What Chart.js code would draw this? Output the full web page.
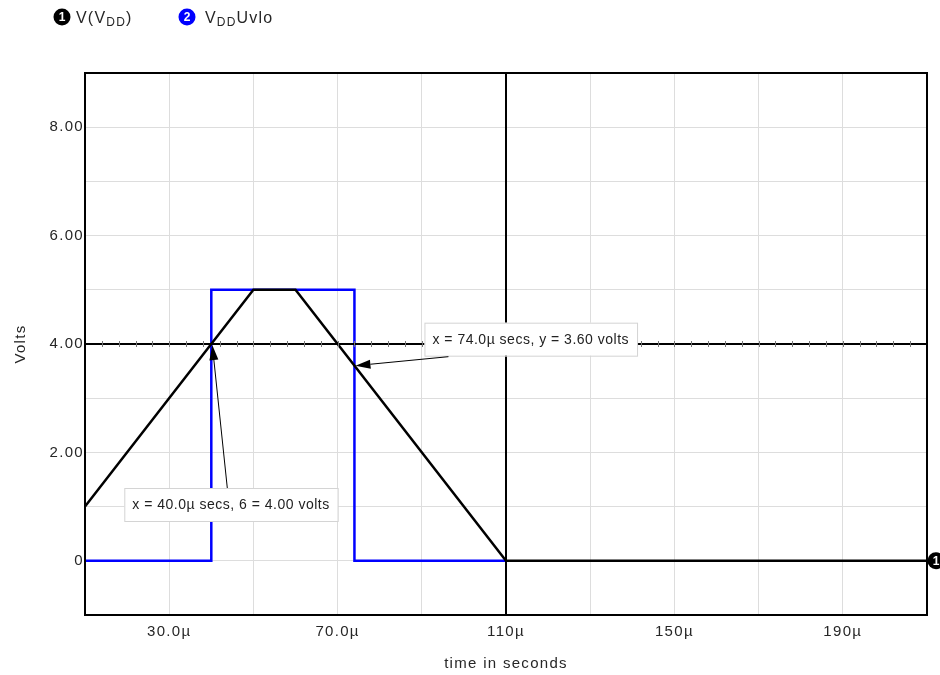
<!DOCTYPE html>
<html>
<head>
<meta charset="utf-8">
<title>V(VDD) and VDDUvlo</title>
<script src="https://cdn.jsdelivr.net/npm/chart.js@4.4.1/dist/chart.umd.min.js"></script>
<style>
  html, body { margin: 0; padding: 0; background: #ffffff; }
  #wrap { width: 940px; height: 675px; position: relative; }
</style>
</head>
<body>
<div id="wrap"><canvas id="chart" width="940" height="675"></canvas></div>
<script>
// Trace 1: supply voltage V(VDD), time in microseconds
const vddTime = [10, 50, 60, 110, 210];
const vddVolts = [1.0, 5.0, 5.0, 0, 0];

// Trace 2: under-voltage lockout output VDDUvlo
const uvloTime = [10, 40, 40, 74, 74, 110];
const uvloVolts = [0, 0, 5.0, 5.0, 0, 0];

// Axis ticks
const xTickValues = [30, 70, 110, 150, 190];
const xTickLabels = ['30.0µ', '70.0µ', '110µ', '150µ', '190µ'];
const yTickValues = [0, 2, 4, 6, 8];
const yTickLabels = ['0', '2.00', '4.00', '6.00', '8.00'];

// Cursors and measured points
const cursorTime = [110];
const cursorVolts = [4.0];
const probeTime = [40.0, 74.0];
const probeVolts = [4.00, 3.60];
const probeYName = ['6', 'y'];

const FONT = '"Liberation Sans", Arial, Helvetica, sans-serif';
const TEXT = '#262626';

function toXY(xs, ys) { return xs.map((x, i) => ({ x, y: ys[i] })); }

function line(ctx, x1, y1, x2, y2) {
  ctx.beginPath(); ctx.moveTo(x1, y1); ctx.lineTo(x2, y2); ctx.stroke();
}

function arrow(ctx, fx, fy, tx, ty) {
  const ang = Math.atan2(ty - fy, tx - fx);
  const len = 15, half = 4.5;
  const bx = tx - Math.cos(ang) * len, by = ty - Math.sin(ang) * len;
  ctx.strokeStyle = '#000'; ctx.lineWidth = 1;
  line(ctx, fx, fy, bx, by);
  ctx.fillStyle = '#000';
  ctx.beginPath();
  ctx.moveTo(tx, ty);
  ctx.lineTo(bx + Math.sin(ang) * half, by - Math.cos(ang) * half);
  ctx.lineTo(bx - Math.sin(ang) * half, by + Math.cos(ang) * half);
  ctx.closePath(); ctx.fill();
}

function labelBox(ctx, text, left, top) {
  ctx.font = '14px ' + FONT;
  ctx.letterSpacing = '0.5px';
  const w = ctx.measureText(text).width + 16, h = 33;
  ctx.fillStyle = '#ffffff';
  ctx.fillRect(left, top, w, h);
  ctx.strokeStyle = '#d4d4d4'; ctx.lineWidth = 1;
  ctx.strokeRect(left + 0.5, top + 0.5, w, h);
  ctx.fillStyle = '#222222';
  ctx.textAlign = 'left'; ctx.textBaseline = 'middle';
  ctx.fillText(text, left + 8, top + h / 2 + 1);
  return { w, h };
}

function badge(ctx, cx, cy, color, num) {
  ctx.fillStyle = color;
  ctx.beginPath(); ctx.arc(cx, cy, 8.5, 0, Math.PI * 2); ctx.fill();
  ctx.fillStyle = '#ffffff';
  ctx.font = 'bold 12px ' + FONT;
  ctx.letterSpacing = '0px';
  ctx.textAlign = 'center'; ctx.textBaseline = 'middle';
  ctx.fillText(num, cx, cy + 1);
}

// Text with subscript pieces: parts = [[text, isSub], ...]
function richText(ctx, parts, x, y) {
  ctx.textAlign = 'left'; ctx.textBaseline = 'alphabetic';
  ctx.fillStyle = TEXT;
  ctx.letterSpacing = '1.2px';
  for (const [t, sub] of parts) {
    ctx.font = (sub ? '12px ' : '16px ') + FONT;
    ctx.fillText(t, x, sub ? y + 3 : y);
    x += ctx.measureText(t).width;
  }
}

const letterSpacing = {
  id: 'letterSpacing',
  beforeDraw(chart) { chart.ctx.letterSpacing = '1.3px'; }
};

const overlay = {
  id: 'overlay',
  afterDatasetsDraw(chart) {
    const { ctx, chartArea: a, scales: { x, y } } = chart;
    ctx.save();
    ctx.beginPath(); ctx.rect(a.left, a.top, a.right - a.left, a.bottom - a.top); ctx.clip();

    // Cursor lines; the horizontal one carries minor ticks
    const cx = x.getPixelForValue(cursorTime[0]);
    const cy = y.getPixelForValue(cursorVolts[0]);
    ctx.strokeStyle = '#000'; ctx.lineWidth = 2;
    line(ctx, a.left, cy, a.right, cy);
    line(ctx, cx, a.top, cx, a.bottom);
    ctx.strokeStyle = '#777'; ctx.lineWidth = 1;
    for (let t = 10; t <= 210; t += 4) {
      const px = Math.round(x.getPixelForValue(t)) + 0.5;
      line(ctx, px, cy - 3, px, cy + 3);
    }
    ctx.restore();

    ctx.save();
    // Measured-point call-outs
    const p1x = x.getPixelForValue(probeTime[1]), p1y = y.getPixelForValue(probeVolts[1]);
    const t1 = 'x = ' + probeTime[1].toFixed(1) + 'µ secs, ' + probeYName[1] + ' = ' + probeVolts[1].toFixed(2) + ' volts';
    const b1 = labelBox(ctx, t1, p1x + 70, p1y - 43);
    arrow(ctx, p1x + 94, p1y - 43 + b1.h + 1, p1x + 1, p1y);

    const p0x = x.getPixelForValue(probeTime[0]), p0y = y.getPixelForValue(probeVolts[0]);
    const t0 = 'x = ' + probeTime[0].toFixed(1) + 'µ secs, ' + probeYName[0] + ' = ' + probeVolts[0].toFixed(2) + ' volts';
    labelBox(ctx, t0, p0x - 87, p0y + 144);
    arrow(ctx, p0x + 16, p0y + 144, p0x + 1, p0y + 1);

    // Plot frame
    ctx.strokeStyle = '#000'; ctx.lineWidth = 2;
    ctx.strokeRect(a.left, a.top, a.right - a.left, a.bottom - a.top);

    // Trace end marker on the right edge
    badge(ctx, a.right + 9, y.getPixelForValue(vddVolts[vddVolts.length - 1]), '#000000', '1');

    // Legend
    badge(ctx, 62, 17, '#000000', '1');
    richText(ctx, [['V(V', false], ['DD', true], [')', false]], 76, 23);
    badge(ctx, 187, 17, '#0000ff', '2');
    richText(ctx, [['V', false], ['DD', true], ['Uvlo', false]], 205, 23);
    ctx.restore();
  }
};

new Chart(document.getElementById('chart'), {
  type: 'scatter',
  data: {
    datasets: [
      {
        label: 'VDDUvlo',
        data: toXY(uvloTime, uvloVolts),
        showLine: true,
        borderColor: '#0000ff',
        borderWidth: 2.5,
        pointRadius: 0,
        tension: 0,
        order: 2
      },
      {
        label: 'V(VDD)',
        data: toXY(vddTime, vddVolts),
        showLine: true,
        borderColor: '#000000',
        borderWidth: 2.5,
        pointRadius: 0,
        tension: 0,
        order: 1
      }
    ]
  },
  options: {
    responsive: false,
    devicePixelRatio: 1,
    animation: false,
    layout: { padding: { top: 73, right: 13, left: 0, bottom: 0 } },
    plugins: { legend: { display: false }, tooltip: { enabled: false } },
    scales: {
      x: {
        type: 'linear',
        min: 10, max: 210,
        afterFit(s) { s.height = 60; },
        afterBuildTicks(s) {
          const t = [];
          for (let v = 10; v <= 210; v += 20) t.push({ value: v });
          s.ticks = t;
        },
        ticks: {
          padding: 8,
          color: TEXT,
          font: { family: FONT, size: 15 },
          maxRotation: 0,
          autoSkip: false,
          callback(v) {
            const i = xTickValues.indexOf(v);
            return i >= 0 ? xTickLabels[i] : '';
          }
        },
        grid: { color: '#dddddd', lineWidth: 1, drawTicks: false },
        border: { display: false },
        title: {
          display: true, text: 'time in seconds', color: TEXT,
          font: { family: FONT, size: 15 }, padding: { top: 0, bottom: 2 }
        }
      },
      y: {
        type: 'linear',
        min: -1, max: 9,
        afterFit(s) { s.width = 85; },
        afterBuildTicks(s) {
          const t = [];
          for (let v = -1; v <= 9; v += 1) t.push({ value: v });
          s.ticks = t;
        },
        ticks: {
          padding: 1,
          color: TEXT,
          font: { family: FONT, size: 15 },
          autoSkip: false,
          callback(v) {
            const i = yTickValues.indexOf(v);
            return i >= 0 ? yTickLabels[i] : '';
          }
        },
        grid: { color: '#dddddd', lineWidth: 1, drawTicks: false },
        border: { display: false },
        title: {
          display: true, text: 'Volts', color: TEXT,
          font: { family: FONT, size: 15 }, padding: { top: 12, bottom: 0 }
        }
      }
    }
  },
  plugins: [letterSpacing, overlay]
});
</script>
</body>
</html>
